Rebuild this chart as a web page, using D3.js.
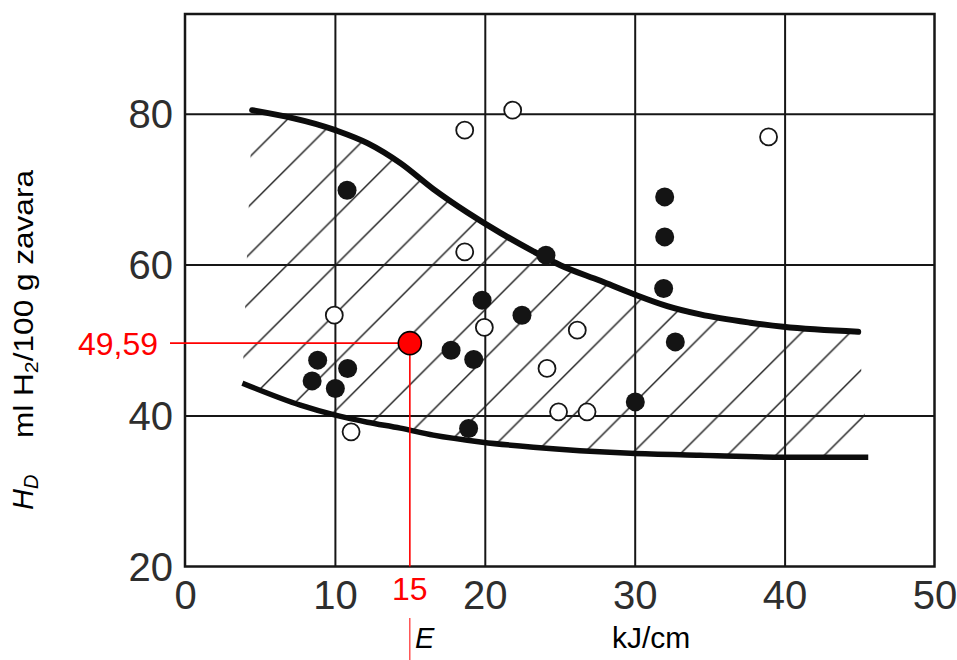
<!DOCTYPE html>
<html>
<head>
<meta charset="utf-8">
<script src="https://cdn.jsdelivr.net/npm/d3@7"></script>
<style>
  html, body { margin: 0; padding: 0; background: #fff; }
  svg { display: block; font-family: "Liberation Sans", Arial, Helvetica, sans-serif; }
</style>
</head>
<body>
<svg id="chart" width="957" height="660"></svg>
<script>
// ---- data ----
const xTicks = [0, 10, 20, 30, 40, 50];
const yTicks = [20, 40, 60, 80];

// upper boundary curve of the scatter band
const upperX = [4.48, 10.03, 12.17, 14.37, 16.57, 18.84, 21.04, 23.24, 25.04, 27.71, 29.91, 32.17, 34.37, 37.71, 39.91, 44.91];
const upperY = [80.46, 77.81, 76.09, 73.44, 70.0, 66.9, 64.2, 61.75, 59.92, 57.85, 56.1, 54.5, 53.4, 52.3, 51.75, 51.1];
// lower boundary curve
const lowerX = [3.83, 7.70, 10.03, 12.17, 14.37, 16.57, 19.84, 23.24, 29.71, 34.37, 39.91, 45.58];
const lowerY = [44.29, 41.38, 40.05, 39.12, 38.33, 37.40, 36.47, 35.81, 35.01, 34.75, 34.49, 34.49];

// open circles
const openX = [18.66, 21.86, 38.93, 18.66, 9.96, 19.97, 26.17, 24.15, 24.92, 26.82, 11.08];
const openY = [77.81, 80.46, 76.92, 61.69, 53.30, 51.67, 51.31, 46.24, 40.49, 40.49, 37.84];
// filled circles
const filledX = [10.81, 24.08, 32.00, 32.00, 31.93, 32.71, 30.04, 19.82, 22.48, 17.75, 19.26, 8.85, 8.48, 10.85, 10.03, 18.92];
const filledY = [69.86, 61.25, 68.97, 63.67, 56.84, 49.76, 41.81, 55.29, 53.30, 48.66, 47.43, 47.34, 44.59, 46.24, 43.59, 38.29];

// highlighted point
const markX = 15;
const markY = 49.59;
const markXLabel = "15";
const markYLabel = "49,59";

// ---- drawing ----
const svg = d3.select("#chart");
const x = d3.scaleLinear().domain([0, 50]).range([185, 934.5]);
const y = d3.scaleLinear().domain([20, 93.2]).range([566.5, 14]);
const ink = "#161616";

// hatch pattern
const defs = svg.append("defs");
const s = 48.5;
const pat = defs.append("pattern")
  .attr("id", "hatch").attr("patternUnits", "userSpaceOnUse")
  .attr("x", 18.7).attr("y", 0).attr("width", s).attr("height", s);
pat.append("path")
  .attr("d", `M0,${s} L${s},0 M-5,5 L5,-5 M${s-5},${s+5} L${s+5},${s-5}`)
  .attr("stroke", "#1e1e1e").attr("stroke-width", 1.4).attr("fill", "none");

// grid lines via axes
svg.append("g").attr("transform", `translate(0,${y(20)})`)
  .call(d3.axisBottom(x).tickValues(xTicks.slice(1, -1)).tickSize(-(y(20) - y(93.2))).tickFormat(""))
  .call(g => g.select(".domain").remove())
  .call(g => g.selectAll("line").attr("stroke", ink).attr("stroke-width", 2));
svg.append("g").attr("transform", `translate(${x(0)},0)`)
  .call(d3.axisLeft(y).tickValues(yTicks.slice(1)).tickSize(-(x(50) - x(0))).tickFormat(""))
  .call(g => g.select(".domain").remove())
  .call(g => g.selectAll("line").attr("stroke", ink).attr("stroke-width", 2));

// frame
svg.append("rect")
  .attr("x", x(0)).attr("y", y(93.2))
  .attr("width", x(50) - x(0)).attr("height", y(20) - y(93.2))
  .attr("fill", "none").attr("stroke", ink).attr("stroke-width", 2.5);

// tick labels via axes
const xAxis = svg.append("g").attr("transform", `translate(0,${y(20)})`)
  .call(d3.axisBottom(x).tickValues(xTicks).tickSize(0).tickPadding(14).tickFormat(d3.format("d")));
xAxis.select(".domain").remove();
xAxis.selectAll("text").attr("font-size", 40).attr("fill", "#2e2e2e")
  .attr("font-family", "'Liberation Sans', Arial, sans-serif");

const yAxis = svg.append("g").attr("transform", `translate(${x(0)},0)`)
  .call(d3.axisLeft(y).tickValues(yTicks).tickSize(0).tickPadding(12).tickFormat(d3.format("d")));
yAxis.select(".domain").remove();
yAxis.selectAll("text").attr("font-size", 40).attr("fill", "#2e2e2e").attr("dy", "0.35em")
  .attr("font-family", "'Liberation Sans', Arial, sans-serif");

// band
const upper = upperX.map((v, i) => [v, upperY[i]]);
const lower = lowerX.map((v, i) => [v, lowerY[i]]);
const line = d3.line().x(d => x(d[0])).y(d => y(d[1])).curve(d3.curveMonotoneX);
const lineRev = d3.line().x(d => x(d[0])).y(d => y(d[1])).curve(d3.curveCatmullRom.alpha(0.5));
const upPath = line(upper);
const lowRevPath = lineRev(lower.slice().reverse());
svg.append("path")
  .attr("d", upPath + "L" + lowRevPath.slice(1) + "Z")
  .attr("fill", "url(#hatch)").attr("stroke", "none");
svg.append("path").attr("d", upPath).attr("fill", "none")
  .attr("stroke", "#0c0c0c").attr("stroke-width", 6).attr("stroke-linecap", "round");
svg.append("path").attr("d", line(lower)).attr("fill", "none")
  .attr("stroke", "#0c0c0c").attr("stroke-width", 5.5).attr("stroke-linecap", "butt");

// points
svg.append("g").selectAll("circle")
  .data(openX.map((v, i) => [v, openY[i]])).join("circle")
  .attr("cx", d => x(d[0])).attr("cy", d => y(d[1])).attr("r", 8.5)
  .attr("fill", "#fff").attr("stroke", ink).attr("stroke-width", 1.8);
svg.append("g").selectAll("circle")
  .data(filledX.map((v, i) => [v, filledY[i]])).join("circle")
  .attr("cx", d => x(d[0])).attr("cy", d => y(d[1])).attr("r", 9.5)
  .attr("fill", "#141414");

// red annotation
const red = "#ff0000";
svg.append("line").attr("x1", 170).attr("x2", x(markX))
  .attr("y1", y(markY)).attr("y2", y(markY))
  .attr("stroke", red).attr("stroke-width", 1.6);
svg.append("line").attr("x1", x(markX)).attr("x2", x(markX))
  .attr("y1", y(markY)).attr("y2", y(20))
  .attr("stroke", red).attr("stroke-width", 1.6);
svg.append("line").attr("x1", x(markX)).attr("x2", x(markX))
  .attr("y1", 618).attr("y2", 660)
  .attr("stroke", red).attr("stroke-width", 1);
svg.append("circle").attr("cx", x(markX)).attr("cy", y(markY)).attr("r", 11.5)
  .attr("fill", red).attr("stroke", "#000").attr("stroke-width", 1.6);
svg.append("text").attr("x", 158).attr("y", y(markY)).attr("dy", "0.36em")
  .attr("text-anchor", "end").attr("font-size", 32).attr("fill", red).text(markYLabel);
svg.append("text").attr("x", x(markX)).attr("y", 600)
  .attr("text-anchor", "middle").attr("font-size", 32).attr("fill", red).text(markXLabel);

// axis titles
svg.append("text").attr("x", 415).attr("y", 648).attr("font-size", 29)
  .attr("font-style", "italic").attr("fill", "#000").text("E");
svg.append("text").attr("x", 612).attr("y", 648).attr("font-size", 30)
  .attr("fill", "#000").text("kJ/cm");

const hd = svg.append("text").attr("transform", "translate(33,510) rotate(-90)")
  .attr("font-size", 29).attr("font-style", "italic").attr("fill", "#000");
hd.append("tspan").text("H");
hd.append("tspan").attr("font-size", 20).attr("dy", 5).text("D");

const yt = svg.append("text").attr("transform", "translate(33,438) rotate(-90)")
  .attr("font-size", 28).attr("fill", "#000")
  .attr("textLength", 268).attr("lengthAdjust", "spacingAndGlyphs");
yt.append("tspan").text("ml H");
yt.append("tspan").attr("font-size", 19).attr("dy", 5).text("2");
yt.append("tspan").attr("dy", -5).text("/100 g zavara");
</script>
</body>
</html>
